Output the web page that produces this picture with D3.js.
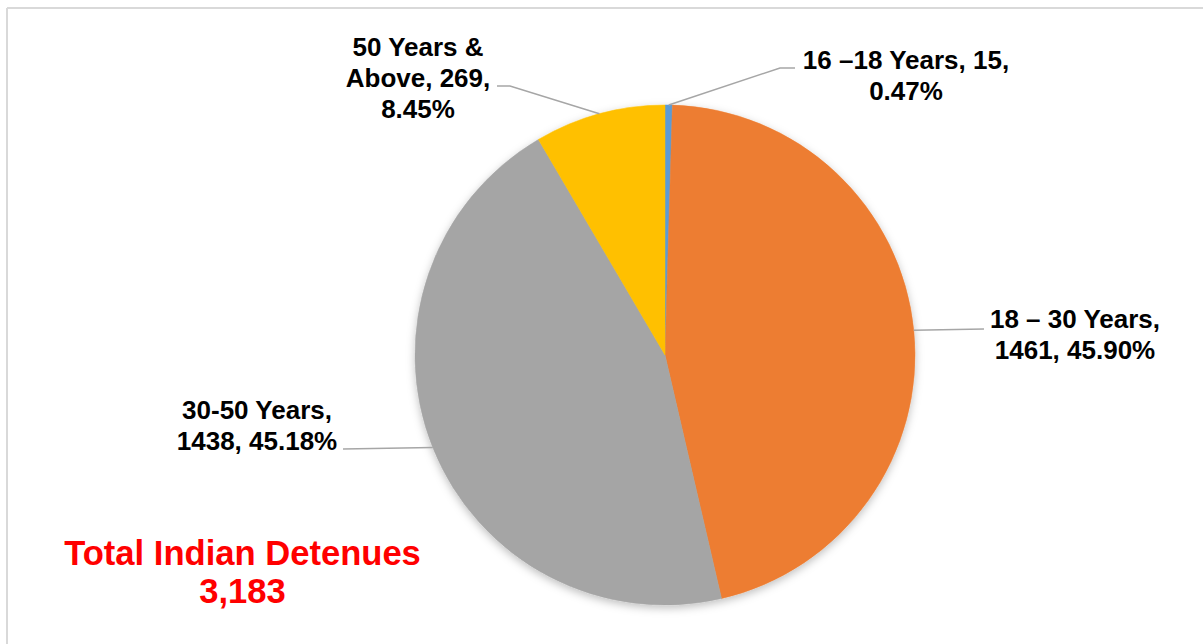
<!DOCTYPE html>
<html>
<head>
<meta charset="utf-8">
<script src="https://cdn.jsdelivr.net/npm/d3@7"></script>
<style>
  html, body { margin: 0; padding: 0; background: #fff; }
  svg { display: block; }
</style>
</head>
<body>
<svg id="chart" width="1203" height="644"></svg>
<script>
// ---- data ----
const categories = ["16 \u201318 Years", "18 \u2013 30 Years", "30-50 Years", "50 Years & Above"];
const values = [15, 1461, 1438, 269];
const percentLabels = ["0.47%", "45.90%", "45.18%", "8.45%"];
const colors = ["#5B9BD5", "#ED7D31", "#A5A5A5", "#FFC000"];
const totalLabel = "Total Indian Detenues";
const totalValue = "3,183";

// label text lines (as displayed in the reference)
const labelLines = [
  ["16 \u201318 Years, 15,", "0.47%"],
  ["18 \u2013 30 Years,", "1461, 45.90%"],
  ["30-50 Years,", "1438, 45.18%"],
  ["50 Years &", "Above, 269,", "8.45%"]
];

// ---- layout (kept separate from data) ----
const W = 1203, H = 644;
const cx = 665, cy = 355, R = 250;
const labelLayout = [
  { x: 906, y: 69, anchor: [795, 68], elbow: [780, 68] },
  { x: 1075, y: 328, anchor: [984, 329], elbow: null },
  { x: 257, y: 419, anchor: [343, 449], elbow: null },
  { x: 418, y: 56, anchor: [497, 86], elbow: [510, 86] }
];
const lineH = 31;

const svg = d3.select("#chart");

// shadow filter
const defs = svg.append("defs");
const f = defs.append("filter").attr("id", "shadow")
  .attr("x", "-20%").attr("y", "-20%").attr("width", "140%").attr("height", "140%");
f.append("feDropShadow").attr("dx", 0).attr("dy", 3).attr("stdDeviation", 4)
  .attr("flood-color", "#000").attr("flood-opacity", 0.25);

// frame (top + left lines visible)
svg.append("line").attr("x1", 7).attr("y1", 8).attr("x2", W).attr("y2", 8)
  .attr("stroke", "#d9d9d9").attr("stroke-width", 2);
svg.append("line").attr("x1", 7).attr("y1", 8).attr("x2", 7).attr("y2", H)
  .attr("stroke", "#d9d9d9").attr("stroke-width", 2);

const pie = d3.pie().sort(null).value(d => d)(values);
const arc = d3.arc().innerRadius(0).outerRadius(R);

const g = svg.append("g").attr("transform", `translate(${cx},${cy})`);
g.append("g").attr("filter", "url(#shadow)")
  .selectAll("path").data(pie).join("path")
  .attr("d", arc)
  .attr("fill", (d, i) => colors[i])
  .attr("stroke", (d, i) => colors[i]).attr("stroke-width", 0.5);

// leader lines
pie.forEach((d, i) => {
  const mid = (d.startAngle + d.endAngle) / 2;
  const px = cx + R * Math.sin(mid), py = cy - R * Math.cos(mid);
  const L = labelLayout[i];
  const pts = [[px, py]];
  if (L.elbow) pts.push(L.elbow);
  pts.push(L.anchor);
  svg.append("path")
    .attr("d", d3.line()(pts))
    .attr("fill", "none").attr("stroke", "#a6a6a6").attr("stroke-width", 1.5);
});

// labels
labelLines.forEach((lines, i) => {
  const L = labelLayout[i];
  const t = svg.append("text")
    .attr("text-anchor", "middle")
    .attr("font-family", "Liberation Sans, Arial, sans-serif")
    .attr("font-weight", "bold").attr("font-size", 26).attr("fill", "#000");
  lines.forEach((ln, k) => {
    t.append("tspan").attr("x", L.x).attr("y", L.y + k * lineH).text(ln);
  });
});

// total annotation
const tt = svg.append("text")
  .attr("text-anchor", "middle")
  .attr("font-family", "Liberation Sans, Arial, sans-serif")
  .attr("font-weight", "bold").attr("font-size", 34.6).attr("fill", "#FF0000");
tt.append("tspan").attr("x", 242.5).attr("y", 565).text(totalLabel);
tt.append("tspan").attr("x", 242.5).attr("y", 603).text(totalValue);
</script>
</body>
</html>
